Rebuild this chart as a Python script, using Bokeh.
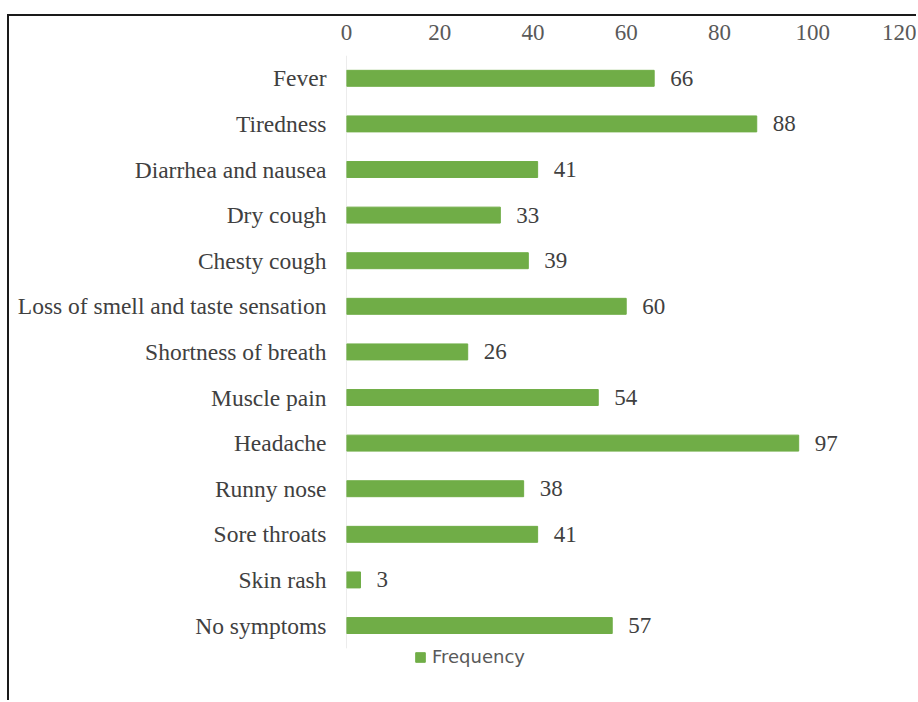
from bokeh.plotting import figure
from bokeh.models import (Range1d, ColumnDataSource, LabelSet,
                          Legend, LegendItem, FixedTicker)
from bokeh.core.properties import value
from bokeh.embed import file_html
from bokeh.resources import INLINE

categories = ["Fever", "Tiredness", "Diarrhea and nausea", "Dry cough",
              "Chesty cough", "Loss of smell and taste sensation",
              "Shortness of breath", "Muscle pain", "Headache", "Runny nose",
              "Sore throats", "Skin rash", "No symptoms"]
frequency = [66, 88, 41, 33, 39, 60, 26, 54, 97, 38, 41, 3, 57]
x_ticks = [0, 20, 40, 60, 80, 100, 120]

SERIF = "Liberation Serif"
TXT = "#404040"

ypos = list(range(len(categories)))
src = ColumnDataSource(dict(y=ypos, cat=categories, freq=frequency,
                            lab=[str(v) for v in frequency]))

n = len(categories)
p = figure(width=909, height=686,
           y_range=Range1d(n - 0.5 + 0.53, -0.5),
           x_range=Range1d(0, 122.7),
           x_axis_location="above",
           output_backend="svg", toolbar_location=None,
           min_border_left=337, min_border_right=0,
           min_border_top=39, min_border_bottom=30)
p.margin = (14, 0, 0, 7)
p.styles = {"border-top": "2px solid #1a1a1a", "border-left": "2px solid #1a1a1a"}

p.outline_line_color = None
p.xgrid.visible = False
p.ygrid.visible = False
p.background_fill_color = "white"
p.border_fill_color = "white"

xa = p.xaxis[0]
xa.ticker = FixedTicker(ticks=x_ticks)
xa.axis_line_color = None
xa.major_tick_line_color = None
xa.minor_tick_line_color = None
xa.major_tick_out = 0
xa.major_label_standoff = 16
xa.major_label_text_font = SERIF
xa.major_label_text_font_size = "23px"
xa.major_label_text_color = "#595959"

ya = p.yaxis[0]
ya.ticker = FixedTicker(ticks=ypos)
ya.major_label_overrides = {i: c for i, c in zip(ypos, categories)}
ya.axis_line_color = None
ya.major_tick_line_color = None
ya.minor_tick_line_color = None
ya.major_tick_out = 0
ya.major_label_standoff = 20
ya.major_label_text_font = SERIF
ya.major_label_text_font_size = "23.5px"
ya.major_label_text_color = TXT

# light grey category axis line at x = 0, spanning the category slots
p.segment(x0=[0], y0=[ypos[0] - 0.5], x1=[0], y1=[ypos[-1] + 0.5],
          line_color="#d9d9d9", line_width=1)

r = p.hbar(y="y", right="freq", left=0, height=0.35, source=src,
           fill_color="#70AD47", line_color="#70AD47")

labels = LabelSet(x="freq", y="y", text="lab", source=src, x_offset=16,
                  text_baseline="middle", text_align="left",
                  text_font=value(SERIF), text_font_size="23px",
                  text_color=TXT)
p.add_layout(labels)

legend = Legend(items=[LegendItem(label="Frequency", renderers=[r])],
                orientation="horizontal", location=(68, 5),
                border_line_color=None, background_fill_alpha=0,
                padding=0, margin=0, glyph_width=12, glyph_height=12,
                label_standoff=6, label_text_font="DejaVu Sans",
                label_text_font_size="18px", label_text_color="#595959")
p.add_layout(legend, "center")

open("out.html", "w").write(file_html(p, INLINE))
